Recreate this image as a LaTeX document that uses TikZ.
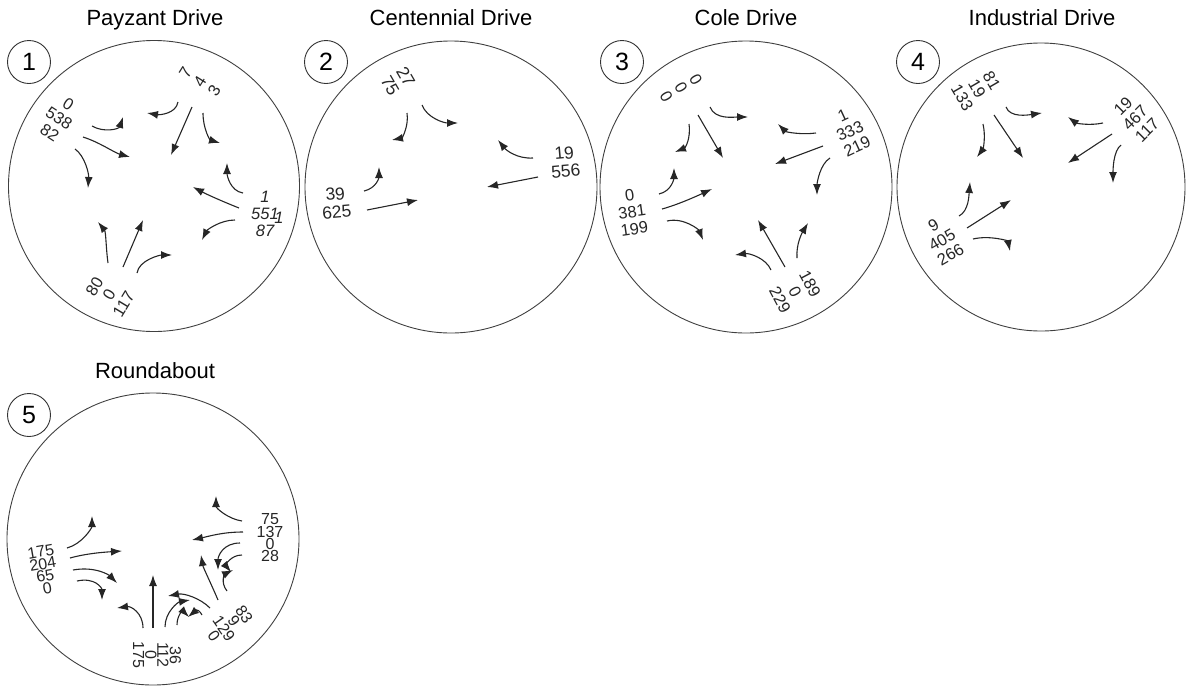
\documentclass[tikz,border=0pt]{standalone}
\usepackage{fontspec}
\setmainfont{Liberation Sans}
\usetikzlibrary{arrows.meta}
\tikzset{
  ring/.style={draw=black!75, line width=0.9pt, circle, inner sep=0pt},
  numring/.style={draw=black!80, line width=0.9pt, circle, minimum size=43pt, inner sep=0pt, font=\fontsize{25}{25}\selectfont},
  ttl/.style={anchor=base, inner sep=0pt, font=\fontsize{22}{24}\selectfont},
  cnt/.style={align=center, inner sep=0pt, font=\fontsize{16.5}{17}\selectfont, text=black!85},
  big/.style={align=center, inner sep=0pt, font=\fontsize{17.5}{18}\selectfont, text=black!85},
  tight/.style={align=center, inner sep=0pt, font=\fontsize{16}{11}\selectfont, text=black!85},
  slnt/.style={align=center, inner sep=0pt, font=\fontsize{16.5}{17}\selectfont\itshape, text=black!85},
  mv/.style={-{Latex[length=11pt,width=8pt]}, line width=1.1pt, draw=black!85}
}
\begin{document}
\begin{tikzpicture}[x=1pt,y=-1pt]
\useasboundingbox (0,0) rectangle (1186,689);
% ---------- titles ----------
\node[ttl] (t1) at (155,25) {Payzant Drive};
\node[ttl] (t2) at (451,25) {Centennial Drive};
\node[ttl] (t3) at (746,25) {Cole Drive};
\node[ttl] (t4) at (1042,25) {Industrial Drive};
\node[ttl] (t5) at (155,378) {Roundabout};
% ---------- big circles ----------
\node[ring, minimum size=291pt] (c1) at (154,186) {};
\node[ring, minimum size=292pt] (c2) at (451,187) {};
\node[ring, minimum size=292pt] (c3) at (746,187) {};
\node[ring, minimum size=288pt] (c4) at (1041,187) {};
\node[ring, minimum size=292pt] (c5) at (153,539) {};
% ---------- number circles ----------
\node[numring, fill=white] (n1) at (29,62) {1};
\node[numring, fill=white] (n2) at (326,62) {2};
\node[numring, fill=white] (n3) at (622,62) {3};
\node[numring, fill=white] (n4) at (918,62) {4};
\node[numring, fill=white] (n5) at (29,415) {5};

% ================= 1 Payzant =================
\node[cnt, rotate=58] (p1n) at (200,82) {7\\4\\3};
\node[cnt, rotate=-33] (p1w) at (59,118) {0\\538\\82};
\node[slnt] (p1e) at (265,214) {1\\551\\87};
\node[slnt] (p1x) at (279,218) {1};
\node[cnt, rotate=59] (p1s) at (109,295) {80\\0\\117};
% north
\draw[mv] (178,102) .. controls +(-2,12) and +(12,2) .. (147,113);
\draw[mv] (192,107) -- (171,155);
\draw[mv] (203,113) .. controls +(0,16) and +(-10,-3) .. (220,143);
% west
\draw[mv] (92,126) .. controls +(12,7) and +(-4,12) .. (123,117);
\draw[mv] (83,137) .. controls +(16,5) and +(-15,-4) .. (130,157);
\draw[mv] (75,149) .. controls +(10,7) and +(1,-14) .. (88,188);
% east
\draw[mv] (243,193) .. controls +(-13,-2) and +(0,12) .. (227,163);
\draw[mv] (239,208) .. controls +(-15,-6) and +(15,8) .. (193,187);
\draw[mv] (235,220) .. controls +(-15,0) and +(5,-10) .. (202,240);
% south
\draw[mv] (108,263) .. controls +(-2,-14) and +(8,10) .. (98,222);
\draw[mv] (123,267) -- (143,220);
\draw[mv] (137,273) .. controls +(2,-13) and +(-12,0) .. (172,255);

% ================= 2 Centennial =================
\node[big, rotate=-60] (p2n) at (398,81) {27\\75};
\node[big, rotate=5] (p2e) at (565,162) {19\\556};
\node[big, rotate=5] (p2w) at (336,203) {39\\625};
\draw[mv] (407,113) .. controls +(2,13) and +(10,-2) .. (392,140);
\draw[mv] (422,105) .. controls +(5,13) and +(-14,0) .. (458,123);
\draw[mv] (533,158) .. controls +(-16,1) and +(8,10) .. (498,140);
\draw[mv] (538,177) -- (487,187);
\draw[mv] (364,191) .. controls +(13,-3) and +(0,10) .. (379,167);
\draw[mv] (367,210) -- (418,200);

% ================= 3 Cole =================
\node[cnt, rotate=-60] (p3n) at (681,88) {0\\0\\0};
\node[cnt, rotate=25] (p3e) at (850,131) {1\\333\\219};
\node[cnt, rotate=8] (p3w) at (632,212) {0\\381\\199};
\node[cnt, rotate=-62] (p3s) at (795,292) {189\\0\\229};
\draw[mv] (689,124) .. controls +(2,15) and +(10,-4) .. (675,152);
\draw[mv] (698,115) -- (723,158);
\draw[mv] (710,107) .. controls +(5,13) and +(-14,0) .. (748,117);
\draw[mv] (816,133) .. controls +(-15,2) and +(8,8) .. (778,124);
\draw[mv] (823,146) -- (775,164);
\draw[mv] (830,158) .. controls +(-10,6) and +(0,-12) .. (817,195);
\draw[mv] (771,270) .. controls +(-5,-12) and +(14,-2) .. (735,255);
\draw[mv] (785,267) -- (758,220);
\draw[mv] (797,258) .. controls +(-1,-14) and +(-6,10) .. (808,223);
\draw[mv] (659,194) .. controls +(13,-3) and +(0,10) .. (674,168);
\draw[mv] (662,209) .. controls +(15,-4) and +(-15,7) .. (712,189);
\draw[mv] (667,221) .. controls +(17,-4) and +(-4,-10) .. (703,240);

% ================= 4 Industrial =================
\node[cnt, rotate=-60] (p4n) at (977,89) {81\\19\\133};
\node[cnt, rotate=45] (p4e) at (1135,118) {19\\467\\117};
\node[cnt, rotate=30] (p4w) at (942,240) {9\\405\\266};
\draw[mv] (983,124) .. controls +(3,13) and +(6,-8) .. (977,157);
\draw[mv] (994,115) -- (1023,158);
\draw[mv] (1006,107) .. controls +(4,11) and +(-14,2) .. (1042,113);
\draw[mv] (1103,123) .. controls +(-14,3) and +(8,6) .. (1068,117);
\draw[mv] (1112,134) -- (1068,163);
\draw[mv] (1121,145) .. controls +(-8,6) and +(0,-12) .. (1113,183);
\draw[mv] (959,216) .. controls +(10,-5) and +(-1,12) .. (970,182);
\draw[mv] (967,228) -- (1011,200);
\draw[mv] (973,239) .. controls +(17,-4) and +(-2,-10) .. (1010,251);

% ================= 5 Roundabout =================
\node[tight, rotate=10] (p5w) at (44,570) {175\\204\\65\\0};
\node[tight] (p5e) at (270,538) {75\\137\\0\\28};
\node[tight, rotate=-90] (p5s) at (157,655) {36\\112\\0\\175};
\node[tight, rotate=-55] (p5d) at (229,625) {83\\9\\129\\0};
% west
\draw[mv] (67,548) .. controls +(15,-4) and +(0,12) .. (92,516);
\draw[mv] (70,558) .. controls +(18,-5) and +(-15,1) .. (122,551);
\draw[mv] (73,570) .. controls +(22,-4) and +(-8,-8) .. (117,583);
\draw[mv] (77,581) .. controls +(18,-4) and +(0,-12) .. (102,600);
% east
\draw[mv] (242,521) .. controls +(-14,-2) and +(0,12) .. (216,496);
\draw[mv] (243,532) .. controls +(-20,0) and +(18,-4) .. (192,540);
\draw[mv] (240,543) .. controls +(-17,0) and +(0,-14) .. (218,570);
\draw[mv] (242,555) .. controls +(-12,0) and +(-5,-6) .. (231,572);
% south-east
\draw[mv] (227,591) .. controls +(-7,-9) and +(-8,4) .. (233,570);
\draw[mv] (218,600) .. controls +(-5,-12) and +(2,12) .. (201,555);
\draw[mv] (210,608) .. controls +(-10,-10) and +(16,-3) .. (168,596);
\draw[mv] (202,615) .. controls +(-5,-9) and +(6,-5) .. (188,617);
% south
\draw[mv] (143,628) .. controls +(0,-15) and +(14,-2) .. (117,608);
\draw[mv] (153,628) -- (153,575);
\draw[mv] (165,627) .. controls +(0,-15) and +(-12,2) .. (190,600);
\draw[mv] (177,625) .. controls +(0,-10) and +(-6,-6) .. (189,617);
\end{tikzpicture}
\end{document}
